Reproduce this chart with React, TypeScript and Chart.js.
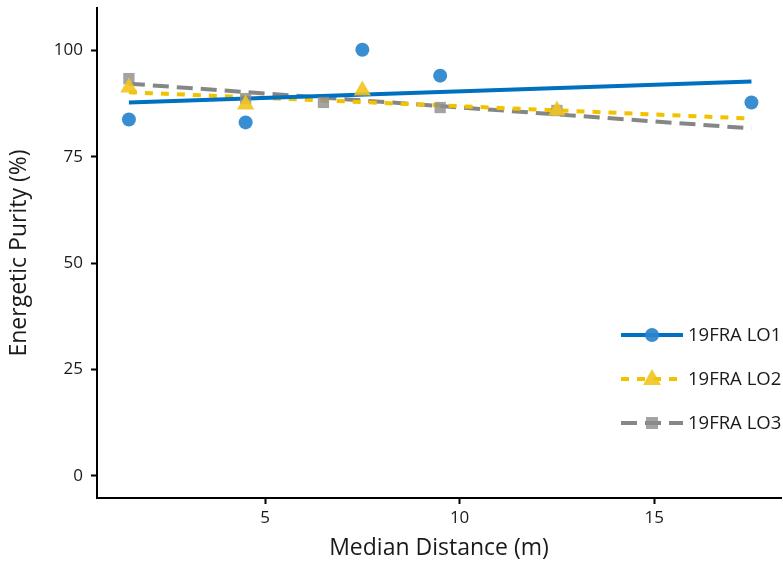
import React, { useEffect, useRef } from "react";
import { Chart, registerables } from "chart.js";

Chart.register(...registerables);

// Measured samples per location
const lo1X = [1.5, 4.5, 7.5, 9.5, 17.5];
const lo1Y = [83.8, 83.1, 100.2, 94.1, 87.8];
const lo2X = [1.5, 4.5, 7.5, 12.5];
const lo2Y = [91.3, 87.3, 90.6, 85.9];
const lo3X = [1.5, 4.5, 6.5, 9.5, 12.5];
const lo3Y = [93.4, 88.7, 87.8, 86.6, 85.9];

// Linear trend end points per location
const trendX = [1.5, 17.5];
const lo1Trend = [87.8, 92.7];
const lo2Trend = [90.2, 84.0];
const lo3Trend = [92.2, 81.7];

const seriesNames = ["19FRA LO1", "19FRA LO2", "19FRA LO3"];
const yTicks = [0, 25, 50, 75, 100];
const xTicks = [5, 10, 15];

const FONT = "'Open Sans', 'DejaVu Sans', sans-serif";

const pts = (xs: number[], ys: number[]) => xs.map((x, i) => ({ x, y: ys[i] }));

const styles = [
  { line: "#0070C0", marker: "rgba(40,132,206,0.92)", dash: [] as number[], shape: "circle", radius: 7 },
  { line: "#F2C200", marker: "rgba(240,196,30,0.9)", dash: [8, 8], shape: "triangle", radius: 10 },
  { line: "#868686", marker: "rgba(140,140,140,0.8)", dash: [16, 8], shape: "rect", radius: 8 },
];

// Scale boxes reserve no extra room for overhanging labels
const noOverhang = (s: any) => {
  s.paddingLeft = 0;
  s.paddingRight = 0;
  s.paddingTop = 0;
  s.paddingBottom = 0;
};

const legendPlugin = {
  id: "insideLegend",
  afterDraw(chart: any) {
    const ctx = chart.ctx;
    const rows = [335, 379, 423];
    ctx.save();
    styles.forEach((s, i) => {
      const y = rows[i];
      ctx.strokeStyle = s.line;
      ctx.lineWidth = 4;
      ctx.setLineDash(s.dash);
      ctx.beginPath();
      ctx.moveTo(621, y);
      ctx.lineTo(683, y);
      ctx.stroke();
      ctx.setLineDash([]);
      ctx.fillStyle = s.marker;
      const cx = 652;
      if (s.shape === "circle") {
        ctx.beginPath();
        ctx.arc(cx, y, 7, 0, Math.PI * 2);
        ctx.fill();
      } else if (s.shape === "triangle") {
        ctx.beginPath();
        ctx.moveTo(cx, y - 10);
        ctx.lineTo(cx + 9, y + 6);
        ctx.lineTo(cx - 9, y + 6);
        ctx.closePath();
        ctx.fill();
      } else {
        ctx.fillRect(cx - 6, y - 6, 12, 12);
      }
      ctx.fillStyle = "#1a1a1a";
      ctx.font = `18.5px ${FONT}`;
      ctx.textBaseline = "middle";
      ctx.textAlign = "left";
      ctx.fillText(seriesNames[i], 688, y + 1);
    });
    ctx.restore();
  },
};

export default function App() {
  const ref = useRef<HTMLCanvasElement | null>(null);

  useEffect(() => {
    if (!ref.current) return;
    const trendSets = [lo1Trend, lo2Trend, lo3Trend].map((t, i) => ({
      type: "line" as const,
      label: seriesNames[i] + " trend",
      data: pts(trendX, t),
      borderColor: styles[i].line,
      borderWidth: 4,
      borderDash: styles[i].dash,
      pointRadius: 0,
      fill: false,
      order: 2,
    }));
    const pointSets = [
      pts(lo1X, lo1Y),
      pts(lo2X, lo2Y),
      pts(lo3X, lo3Y),
    ].map((d, i) => ({
      type: "scatter" as const,
      label: seriesNames[i],
      data: d,
      pointStyle: styles[i].shape,
      pointRadius: styles[i].radius,
      pointBackgroundColor: styles[i].marker,
      pointBorderWidth: 0,
      borderColor: "rgba(0,0,0,0)",
      showLine: false,
      order: 1,
    }));

    const chart = new Chart(ref.current, {
      type: "scatter",
      data: { datasets: [...pointSets, ...trendSets] as any },
      options: {
        animation: false,
        responsive: false,
        devicePixelRatio: 1,
        layout: { autoPadding: false, padding: { top: 8, right: 2, left: 0, bottom: 0 } },
        plugins: { legend: { display: false }, tooltip: { enabled: false } },
        scales: {
          x: {
            type: "linear",
            min: 0.68,
            max: 18.26,
            afterBuildTicks: (s: any) => {
              s.ticks = xTicks.map((v) => ({ value: v }));
            },
            afterFit: (s: any) => {
              s.height = 64;
              noOverhang(s);
            },
            border: { display: true, color: "#000", width: 2 },
            grid: { display: true, drawOnChartArea: false, drawTicks: true, tickLength: 6, tickColor: "#000", tickWidth: 2 } as any,
            ticks: { color: "#1a1a1a", font: { family: FONT, size: 17 }, padding: 4 },
            title: {
              display: true,
              text: "Median Distance (m)",
              color: "#1a1a1a",
              font: { family: FONT, size: 23 },
              padding: { top: 0, bottom: 0 },
            },
          },
          y: {
            type: "linear",
            min: -5.2,
            max: 110,
            afterBuildTicks: (s: any) => {
              s.ticks = yTicks.map((v) => ({ value: v }));
            },
            afterFit: (s: any) => {
              s.width = 97;
              noOverhang(s);
            },
            border: { display: true, color: "#000", width: 2 },
            grid: { display: true, drawOnChartArea: false, drawTicks: true, tickLength: 6, tickColor: "#000", tickWidth: 2 } as any,
            ticks: { color: "#1a1a1a", font: { family: FONT, size: 17 }, padding: 8 },
            title: {
              display: true,
              text: "Energetic Purity (%)",
              color: "#1a1a1a",
              font: { family: FONT, size: 23 },
              padding: { top: 6, bottom: 0 },
            },
          },
        },
      },
      plugins: [legendPlugin],
    });
    return () => chart.destroy();
  }, []);

  return (
    <div style={{ position: "absolute", left: 0, top: 0, width: 783, height: 562, background: "#fff" }}>
      <canvas ref={ref} width={783} height={562} />
    </div>
  );
}
